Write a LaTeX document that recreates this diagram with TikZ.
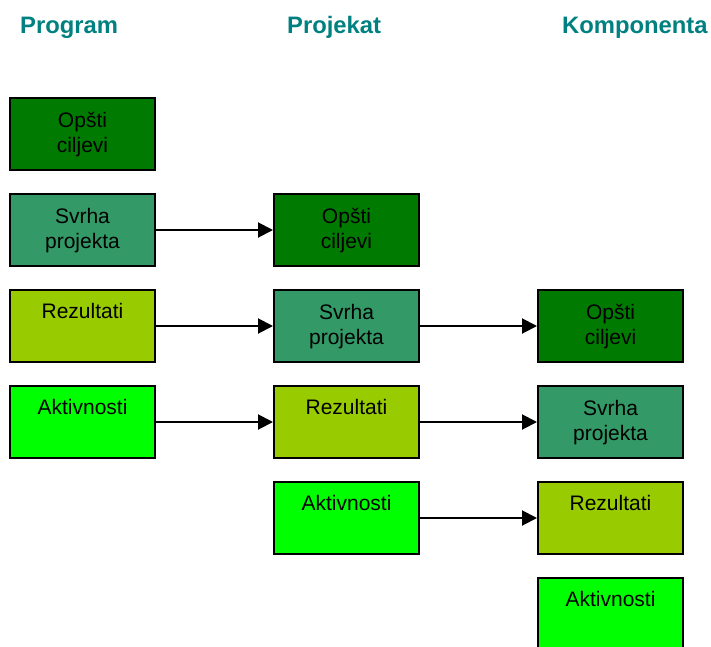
\documentclass[tikz,border=0pt]{standalone}
\usepackage{fontspec}
\setmainfont{Liberation Sans}
\usetikzlibrary{arrows.meta,calc}
\definecolor{headteal}{HTML}{008080}
\definecolor{goalgreen}{HTML}{007A00}
\definecolor{purposegreen}{HTML}{339966}
\definecolor{resultgreen}{HTML}{99CC00}
\definecolor{activitygreen}{HTML}{00FF00}
\tikzset{
  blk/.style={draw=black, line width=2pt, rectangle, inner sep=0pt,
    minimum width=145pt, minimum height=72pt, anchor=north west},
  blktext/.style={inner sep=0pt, align=center, anchor=base,
    font=\fontsize{21}{24.5}\selectfont},
  head/.style={inner sep=0pt, anchor=base west, text=headteal,
    font=\bfseries\fontsize{23.8}{27}\selectfont},
  arr/.style={line width=2pt, -{Triangle[length=15pt,width=15pt]}}
}
% one box with its caption: name, x, y (top left), fill, baseline of the last caption line, caption
\newcommand{\blkbox}[6]{%
  \node[blk, fill=#4] (#1) at (#2,#3) {};
  \node[blktext] (#1t) at ($(#1.north)+(0,#5)$) {#6};
}
\begin{document}
\begin{tikzpicture}[x=1pt,y=-1pt]
\useasboundingbox (0,0) rectangle (711,646);
\clip (0,0) rectangle (711,646);

% column headings
\node[head] (hprog) at (20,33) {Program};
\node[head] (hproj) at (287,33) {Projekat};
\node[head] (hkomp) at (562,33) {Komponenta};

% program level
\blkbox{g1}{9}{97}{goalgreen}{55}{Opšti\\ciljevi}
\blkbox{s1}{9}{193}{purposegreen}{55}{Svrha\\projekta}
\blkbox{r1}{9}{289}{resultgreen}{29}{Rezultati}
\blkbox{a1}{9}{385}{activitygreen}{29}{Aktivnosti}

% project level
\blkbox{g2}{273}{193}{goalgreen}{55}{Opšti\\ciljevi}
\blkbox{s2}{273}{289}{purposegreen}{55}{Svrha\\projekta}
\blkbox{r2}{273}{385}{resultgreen}{29}{Rezultati}
\blkbox{a2}{273}{481}{activitygreen}{29}{Aktivnosti}

% component level
\blkbox{g3}{537}{289}{goalgreen}{55}{Opšti\\ciljevi}
\blkbox{s3}{537}{385}{purposegreen}{55}{Svrha\\projekta}
\blkbox{r3}{537}{481}{resultgreen}{29}{Rezultati}
\blkbox{a3}{537}{577}{activitygreen}{29}{Aktivnosti}

% each level feeds the one below
\draw[arr] (s1.east) -- (g2.west);
\draw[arr] (r1.east) -- (s2.west);
\draw[arr] (a1.east) -- (r2.west);
\draw[arr] (s2.east) -- (g3.west);
\draw[arr] (r2.east) -- (s3.west);
\draw[arr] (a2.east) -- (r3.west);
\end{tikzpicture}
\end{document}
